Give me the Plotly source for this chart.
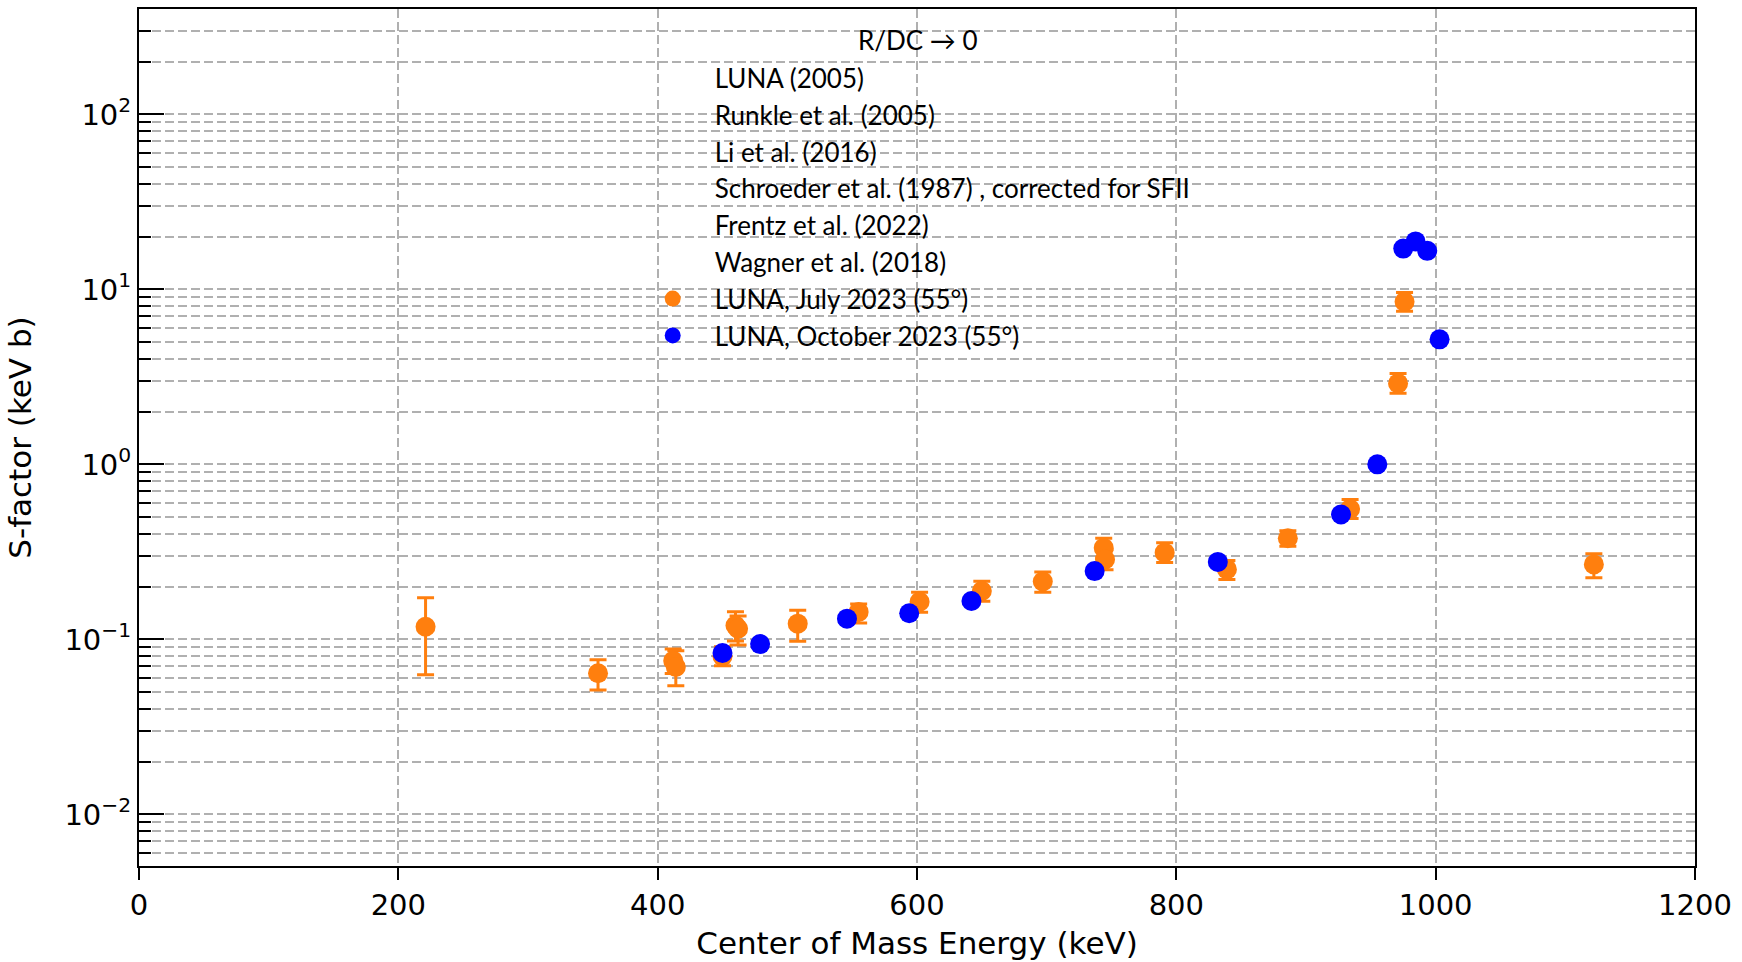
import plotly.graph_objects as go

# ---- data ----
july_E = [221, 354, 412, 414, 450, 460, 462, 508, 555, 602, 650, 697, 744, 745, 791, 839, 886, 934, 971, 976, 1122]
july_S = [0.118, 0.064, 0.0755, 0.0695, 0.080, 0.120, 0.115, 0.123, 0.1435, 0.164, 0.189, 0.214, 0.333, 0.286, 0.313, 0.251, 0.378, 0.556, 2.9, 8.5, 0.268]
july_lo = [0.0628, 0.0513, 0.0638, 0.0543, 0.0706, 0.098, 0.093, 0.0975, 0.124, 0.143, 0.165, 0.186, 0.293, 0.25, 0.275, 0.220, 0.340, 0.49, 2.55, 7.5, 0.225]
july_hi = [0.173, 0.0764, 0.088, 0.086, 0.0906, 0.144, 0.136, 0.1466, 0.159, 0.186, 0.215, 0.243, 0.378, 0.325, 0.356, 0.282, 0.418, 0.63, 3.3, 9.6, 0.308]

oct_E = [450, 479, 546, 594, 642, 737, 832, 927, 955, 975, 984.5, 993.5, 1003]
oct_S = [0.0836, 0.094, 0.1313, 0.141, 0.1657, 0.2455, 0.277, 0.517, 1.0, 17.1, 18.8, 16.6, 5.18]
oct_rel_err = [0.04] * len(oct_E)

empty_labels = ["LUNA (2005)", "Runkle et al. (2005)", "Li et al. (2016)",
                "Schroeder et al. (1987) , corrected for SFII", "Frentz et al. (2022)",
                "Wagner et al. (2018)"]
legend_title = "R/DC → 0"

x_ticks = [0, 200, 400, 600, 800, 1000, 1200]
y_major = [0.01, 0.1, 1, 10, 100]
y_major_text = ["10<sup>−2</sup>", "10<sup>−1</sup>", "10<sup>0</sup>", "10<sup>1</sup>", "10<sup>2</sup>"]
y_minor = [m * 10.0 ** e for e in range(-3, 3) for m in range(2, 10)]

ORANGE = "#ff7f0e"
BLUE = "#0000ff"
GRID = "#b0b0b0"
TICKFONT = "DejaVu Sans"
LEGFONT = "Lato"

fig = go.Figure()

for i, lab in enumerate(empty_labels):
    fig.add_trace(go.Scatter(x=[None], y=[None], mode="none", name=lab,
                             legendgroup=f"g{i}", showlegend=True))

fig.add_trace(go.Scatter(
    x=july_E, y=july_S, mode="markers", name="LUNA, July 2023 (55°)",
    legendgroup="july",
    marker=dict(color=ORANGE, size=20),
    error_y=dict(type="data", symmetric=False,
                 array=[h - s for h, s in zip(july_hi, july_S)],
                 arrayminus=[s - l for s, l in zip(july_S, july_lo)],
                 color=ORANGE, thickness=3, width=8.5),
))
fig.add_trace(go.Scatter(
    x=oct_E, y=oct_S, mode="markers", name="LUNA, October 2023 (55°)",
    legendgroup="oct",
    marker=dict(color=BLUE, size=20),
    error_y=dict(type="data", array=[s * r for s, r in zip(oct_S, oct_rel_err)],
                 color=BLUE, thickness=3, width=8.5),
))

fig.add_annotation(text=legend_title, xref="paper", yref="paper",
                   x=(917.5 - 139) / 1556, y=0.9641,
                   xanchor="center", yanchor="middle", showarrow=False,
                   font=dict(family=LEGFONT, size=26, color="black"))

fig.update_layout(
    width=1742, height=962,
    margin=dict(l=139, r=47, t=7, b=96),
    paper_bgcolor="white", plot_bgcolor="white",
    font=dict(family=TICKFONT, size=29, color="black"),
    legend=dict(
        x=0.316, y=0.947, xanchor="left", yanchor="top",
        bgcolor="rgba(0,0,0,0)", borderwidth=0,
        font=dict(family=LEGFONT, size=26, color="black"),
        traceorder="grouped", tracegroupgap=0, itemwidth=74,
    ),
    xaxis=dict(
        range=[0, 1200], tickvals=x_ticks,
        showline=True, linecolor="black", linewidth=2, mirror=True,
        ticks="outside", ticklen=12, tickwidth=2, tickcolor="black",
        showgrid=True, gridcolor=GRID, gridwidth=2, griddash="9px,4px",
        zeroline=False,
        tickfont=dict(family=TICKFONT, size=29),
        title=dict(text="Center of Mass Energy (keV)", standoff=12,
                   font=dict(family=TICKFONT, size=31)),
    ),
    yaxis=dict(
        type="log", range=[-2.295, 2.602],
        tickvals=y_major, ticktext=y_major_text,
        showline=True, linecolor="black", linewidth=2, mirror=True,
        ticks="inside", ticklen=25, tickwidth=2, tickcolor="black",
        showgrid=True, gridcolor=GRID, gridwidth=2, griddash="9px,4px",
        zeroline=False,
        tickfont=dict(family=TICKFONT, size=29),
        title=dict(text="S-factor (keV b)", standoff=24,
                   font=dict(family=TICKFONT, size=31)),
        minor=dict(tickvals=y_minor, ticks="inside", ticklen=12, tickwidth=2,
                   tickcolor="black", showgrid=True, gridcolor=GRID,
                   gridwidth=2, griddash="9px,4px"),
    ),
)

fig.write_html("out.html")
